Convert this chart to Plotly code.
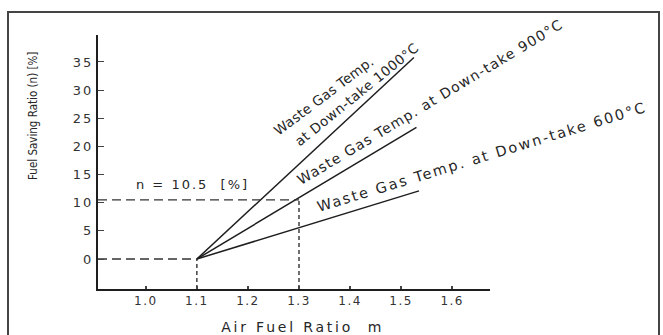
import plotly.graph_objects as go

# ---------------- data ----------------
start_m = 1.1                      # air fuel ratio where all curves start
start_n = 0.0
series_labels = ["Waste Gas Temp. at Down-take 1000°C",
                 "Waste Gas Temp. at Down-take 900°C",
                 "Waste Gas Temp. at Down-take 600°C"]
end_m = [1.525, 1.53, 1.535]        # air fuel ratio at the end of each line
end_n = [35.8, 23.4, 12.1]          # fuel saving ratio at the end of each line

ref_m = [1.1, 1.3]                  # dashed reference points (m)
ref_n = [0.0, 10.5]                 # dashed reference points (n)
ref_text = "n = 10.5  [%]"

x_ticks = [1.0, 1.1, 1.2, 1.3, 1.4, 1.5, 1.6]
x_tick_labels = ["1.0", "1.1", "1.2", "1.3", "1.4", "1.5", "1.6"]
y_ticks = [0, 5, 10, 15, 20, 25, 30, 35]
y_tick_labels = ["0", "5", "10", "15", "20", "25", "30", "35"]

x_title = "Air Fuel Ratio  m"
y_title = "Fuel Saving Ratio (n) [%]"

# ---------------- layout constants ----------------
W, H = 663, 335
XR = [0.9064, 1.674]
YR = [-5.33, 39.79]
INK = "#1e1e1e"
TXT = "#262626"
FONT = "DejaVu Sans"

fig = go.Figure()

# main lines
for m1, n1 in zip(end_m, end_n):
    fig.add_trace(go.Scatter(x=[start_m, m1], y=[start_n, n1], mode="lines",
                             line=dict(color=INK, width=1.5),
                             showlegend=False, hoverinfo="skip"))

# dashed reference lines
for m, n in zip(ref_m, ref_n):
    fig.add_trace(go.Scatter(x=[XR[0], m], y=[n, n], mode="lines",
                             line=dict(color="#333333", width=1.4, dash="9px,5px"),
                             showlegend=False, hoverinfo="skip"))
    fig.add_trace(go.Scatter(x=[m, m], y=[YR[0], n], mode="lines",
                             line=dict(color="#333333", width=1.4, dash="4px,3px"),
                             showlegend=False, hoverinfo="skip"))

# line labels (positions in data coordinates)
lab_font = lambda s: dict(family=FONT, size=s, color=TXT)
annotations = [
    dict(x=1.348, y=28.9, text="Waste Gas Temp.", textangle=-37, font=lab_font(13.5)),
    dict(x=1.4135, y=29.3, text="at Down-take 1000°C", textangle=-39, font=lab_font(13.5)),
    dict(x=1.5565, y=27.89, text=series_labels[1], textangle=-31, font=lab_font(14)),
    dict(x=1.658, y=18.12, text=series_labels[2], textangle=-17, font=lab_font(14.5)),
    dict(x=1.0924, y=13.15, text=ref_text, textangle=0, font=lab_font(13)),
    dict(x=302 / W, y=(H - 327) / H, xref="paper", yref="paper", text=x_title,
         textangle=0, font=lab_font(14)),
    dict(x=33 / W, y=(H - 116) / H, xref="paper", yref="paper", text=y_title,
         textangle=-90,
         font=dict(family="Liberation Sans Narrow, DejaVu Sans Condensed, sans-serif",
                   size=11.5, color=TXT)),
]
for a in annotations:
    a.setdefault("xref", "x")
    a.setdefault("yref", "y")
    a.update(showarrow=False, xanchor="center", yanchor="middle")

fig.update_layout(
    width=W, height=H,
    margin=dict(l=0, r=0, t=0, b=0),
    paper_bgcolor="white", plot_bgcolor="white",
    showlegend=False,
    annotations=annotations,
    xaxis=dict(domain=[98 / W, 490 / W], range=XR, showgrid=False, zeroline=False,
               showline=True, linecolor=INK, linewidth=2,
               ticks="inside", ticklen=3, tickwidth=2, tickcolor="#444444",
               tickvals=x_ticks, ticktext=x_tick_labels,
               tickfont=dict(family=FONT, size=12, color="#333333")),
    yaxis=dict(domain=[46 / H, 300 / H], range=YR, showgrid=False, zeroline=False,
               showline=True, linecolor=INK, linewidth=2,
               ticks="inside", ticklen=6, tickwidth=1.2, tickcolor="#444444",
               tickvals=y_ticks, ticktext=y_tick_labels,
               tickfont=dict(family=FONT, size=13, color="#333333")),
    shapes=[dict(type="rect", xref="paper", yref="paper",
                 x0=8 / W, x1=659 / W, y0=-0.1, y1=(H - 12) / H,
                 line=dict(color="#444444", width=2), fillcolor="rgba(0,0,0,0)",
                 layer="below")],
)

post = """
var gd = document.getElementById('{plot_id}');
var spacing = {'0': 0.3, '1': 0.5, '2': 1.2, '3': 2.0, '4': 2.0, '5': 2.8, '6': 0};
function track(){
  gd.querySelectorAll('g.annotation').forEach(function(g){
    var i = g.getAttribute('data-index');
    var t = g.querySelector('text');
    if (t && spacing[i] !== undefined) { t.style.letterSpacing = spacing[i] + 'px'; }
  });
  gd.querySelectorAll('.xtick text').forEach(function(t){ t.style.letterSpacing = '1.5px'; });
  gd.querySelectorAll('.ytick text').forEach(function(t){ t.style.letterSpacing = '2px'; });
}
track();
if (gd.on) { gd.on('plotly_afterplot', track); }
setTimeout(track, 30);
"""

fig.write_html("out.html", post_script=post, config=dict(displayModeBar=False))
